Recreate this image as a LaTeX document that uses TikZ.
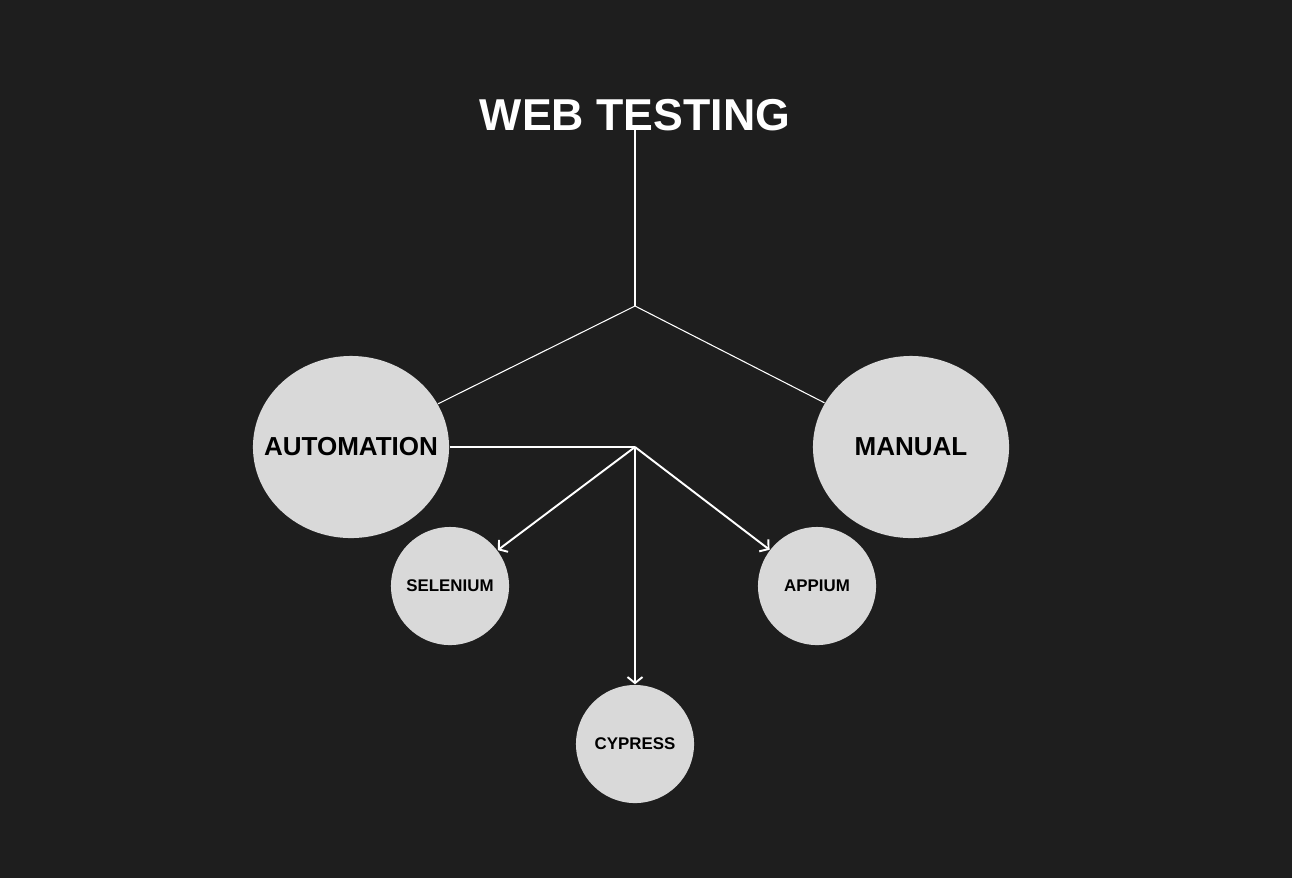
\documentclass[tikz,border=0pt]{standalone}
\usepackage{fontspec}
\setmainfont{Liberation Sans}
\usepackage{tikz}
\usetikzlibrary{arrows.meta,positioning,shapes.geometric}
\definecolor{bgdark}{HTML}{1E1E1E}
\definecolor{bubble}{HTML}{D9D9D9}
\newcommand{\bubbletext}[1]{\makebox[0pt]{#1}}
\tikzset{%
	bigbubble/.style  = {ellipse, fill=bubble, inner sep=0pt, minimum width=1.96cm, minimum height=1.82cm, text centered, font=\bfseries\fontsize{7.4pt}{9pt}\selectfont},
	toolbubble/.style = {circle, fill=bubble, inner sep=0pt, minimum size=1.18cm, text centered, font=\bfseries\fontsize{4.8pt}{6pt}\selectfont},
	link/.style       = {draw=white, line width=0.3pt},
	arrow/.style      = {draw=white, line width=0.55pt, -{Straight Barb[length=0.6mm,width=1.5mm]}},
}

\begin{document}
\begin{tikzpicture}[x=0.01cm,y=-0.01cm]
		% background
		\fill[bgdark] (0,0) rectangle (1292,878);
		\useasboundingbox (0,0) rectangle (1292,878);
		
		% title
		\node[text=white, inner sep=0pt, anchor=base, font=\bfseries\fontsize{12.7pt}{15pt}\selectfont] (title) at (635,130) {WEB TESTING};
		\coordinate (fork) at (635,306);
		\coordinate (hub) at (635,447);
		
		% kinds of testing
		\node[bigbubble] (auto) at (351,447) {\bubbletext{AUTOMATION}};
		\node[bigbubble] (man) at (911,447) {\bubbletext{MANUAL}};
		
		% tools
		\node[toolbubble] (sel) at (450,586) {\bubbletext{SELENIUM}};
		\node[toolbubble] (app) at (817,586) {\bubbletext{APPIUM}};
		\node[toolbubble] (cyp) at (635,744) {\bubbletext{CYPRESS}};
		
		\draw[link] (title.base) -- (fork);
		\draw[link] (fork) -- (auto);
		\draw[link] (fork) -- (man);
		\draw[link] (auto.east) -- (hub);
		
		\foreach \t in {sel,cyp,app} \draw[arrow] (hub) -- (\t);
		
		\end{tikzpicture}
\end{document}
